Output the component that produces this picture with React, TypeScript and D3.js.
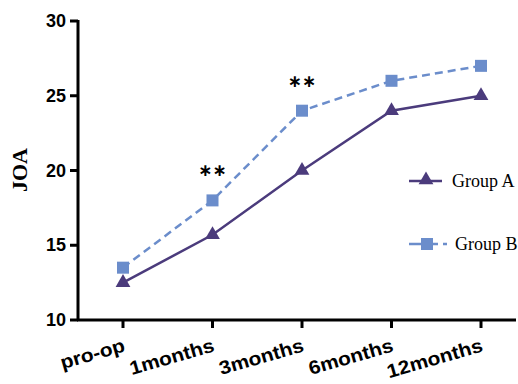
import React from 'react'
import * as d3 from 'd3'

const categories = ['pro-op', '1months', '3months', '6months', '12months']
const groupA = [12.5, 15.7, 20, 24, 25]
const groupB = [13.5, 18, 24, 26, 27]
const yTicks = [10, 15, 20, 25, 30]
const starIdx = [1, 2]

const colA = '#4b3b7c'
const colB = '#6b8dcb'

const App = () => {
  const W = 518, H = 384
  const x = d3.scalePoint().domain(categories).range([123, 481])
  const y = d3.scaleLinear().domain([10, 30]).range([320, 21])
  const line = d3.line<number>().x((d, i) => x(categories[i])!).y(d => y(d))

  const tri = d3.symbol().type(d3.symbolTriangle).size(95)()
  const sq = 6

  return (
    <svg width={W} height={H} style={{ position: 'absolute', left: 0, top: 0 }}>
      <rect width={W} height={H} fill="#fff" />
      {/* axes */}
      <line x1={78} x2={78} y1={20} y2={321} stroke="#000" strokeWidth={3} />
      <line x1={77} x2={516} y1={320} y2={320} stroke="#000" strokeWidth={3} />
      {yTicks.map(t => (
        <g key={t}>
          <line x1={70} x2={78} y1={y(t)} y2={y(t)} stroke="#000" strokeWidth={3} />
          <text x={66} y={y(t) + 6} textAnchor="end" fontFamily="Liberation Sans, Arial" fontWeight="bold" fontSize={18}>{t}</text>
        </g>
      ))}
      {categories.map(c => (
        <g key={c}>
          <line x1={x(c)} x2={x(c)} y1={320} y2={328} stroke="#000" strokeWidth={3} />
          <text transform={`translate(${x(c)! + 3},${351}) rotate(-16) scale(1.1,1)`} textAnchor="end" fontFamily="Liberation Sans, Arial" fontWeight="bold" fontSize={19}>{c}</text>
        </g>
      ))}
      <text transform="translate(27,170) rotate(-90)" textAnchor="middle" fontFamily="Liberation Serif, Times New Roman" fontWeight="bold" fontSize={22}>JOA</text>

      {/* series */}
      <path d={line(groupB)!} fill="none" stroke={colB} strokeWidth={2.5} strokeDasharray="8,5" />
      <path d={line(groupA)!} fill="none" stroke={colA} strokeWidth={2.5} />
      {groupB.map((v, i) => (
        <rect key={i} x={x(categories[i])! - sq} y={y(v) - sq} width={sq * 2} height={sq * 2} fill={colB} />
      ))}
      {groupA.map((v, i) => (
        <path key={i} d={tri!} transform={`translate(${x(categories[i])},${y(v)})`} fill={colA} />
      ))}

      {/* significance */}
      {starIdx.map(i => (
        <text key={i} x={x(categories[i])} y={y(groupB[i]) - 24} textAnchor="middle" fontFamily="DejaVu Sans" fontWeight="bold" fontSize={17}>∗∗</text>
      ))}

      {/* legend */}
      <line x1={409} x2={442} y1={181} y2={181} stroke={colA} strokeWidth={2.5} />
      <path d={tri!} transform="translate(426,180)" fill={colA} />
      <text x={452} y={187} fontFamily="Liberation Serif, Times New Roman" fontSize={18}>Group A</text>
      <line x1={409} x2={447} y1={244} y2={244} stroke={colB} strokeWidth={2.5} strokeDasharray="12,5" />
      <rect x={421} y={238} width={12} height={12} fill={colB} />
      <text x={455} y={250} fontFamily="Liberation Serif, Times New Roman" fontSize={18}>Group B</text>
    </svg>
  )
}

export default App
